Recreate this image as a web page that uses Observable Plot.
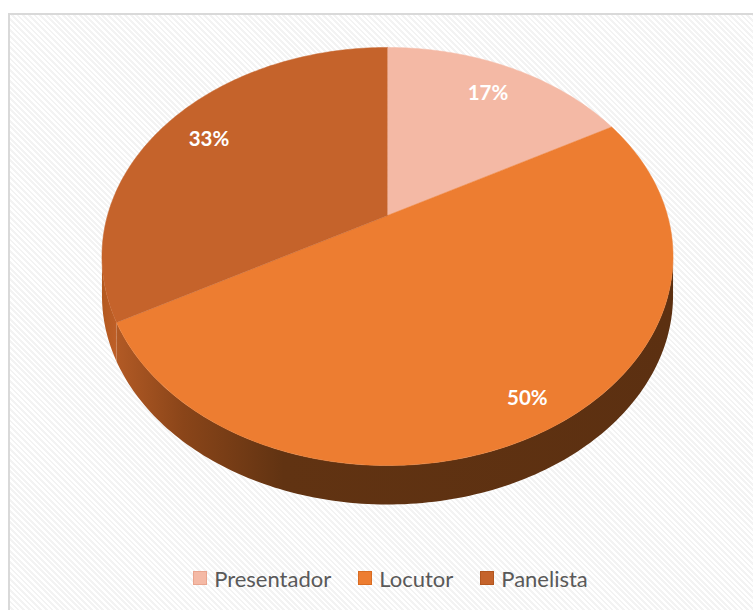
<!DOCTYPE html>
<html><head><meta charset="utf-8">
<script src="https://cdn.jsdelivr.net/npm/d3@7"></script>
<script src="https://cdn.jsdelivr.net/npm/@observablehq/plot@0.6"></script>
<style>
html,body{margin:0;padding:0;background:#fff;overflow:hidden;width:753px;height:610px;}
#frame{position:absolute;left:8px;top:13px;width:770px;height:640px;border:2px solid #d9d9d9;box-sizing:border-box;
  background:repeating-linear-gradient(45deg,#ffffff 0px,#ffffff 2px,#f3f3f3 2px,#f3f3f3 4px);}
#chart{position:absolute;left:0;top:0;width:753px;}
#legend{display:flex;justify-content:center;align-items:center;padding-left:28px;height:56px;box-sizing:border-box;
  font-family:Lato,"Open Sans",sans-serif;font-size:22px;color:#595959;}
.item{display:flex;align-items:center;margin:0 13.5px;}
.sw{width:14px;height:14px;margin-right:7px;box-sizing:border-box;}
</style></head><body>
<div id="frame"></div>
<div id="chart"></div>
<script>
// ---- data ----
const categories = ["Presentador", "Locutor", "Panelista"];
const values = [17, 50, 33];
const labels = ["17%", "50%", "33%"];
const colors = ["#f4b9a5", "#ed7d31", "#c5632b"];
const swatchBorders = ["#e9a58e", "#d96c22", "#b2561f"];

// ---- geometry settings (styling) ----
const W = 753, H = 550;
const cx = 387, cy = 215, kx = 280, ky = 201, persp = 0.196, depth = 39;
const labelR = [0.8, 0.88, 0.8];

const data = categories.map((c, i) => ({key: c, value: values[i], label: labels[i], idx: i}));
const arcs = d3.pie().sort(null).value(d => d.value).startAngle(0).endAngle(2 * Math.PI)(data);

function P(phi, r = 1) {
  const X = r * Math.sin(phi), Z = r * Math.cos(phi), d = 1 + persp * Z;
  return {x: X / d, y: Z / d};
}
const stepA = Math.PI / 180;
function angles(a0, a1) {
  const n = Math.max(2, Math.ceil((a1 - a0) / stepA));
  return d3.range(n + 1).map(i => a0 + (a1 - a0) * i / n);
}
const dy = depth / ky;
const vis0 = Math.acos(-persp), vis1 = 2 * Math.PI - Math.acos(-persp);

// top faces
const tops = arcs.flatMap(a => [
  {key: a.data.key, ...P(0, 0)},
  ...angles(a.startAngle, a.endAngle).map(phi => ({key: a.data.key, ...P(phi)}))
]);
// side walls (visible front part)
const sides = arcs.map(a => {
  const b0 = Math.max(a.startAngle, vis0), b1 = Math.min(a.endAngle, vis1);
  if (b1 <= b0) return [];
  const up = angles(b0, b1).map(phi => ({key: a.data.key, ...P(phi)}));
  const down = up.slice().reverse().map(p => ({key: p.key, x: p.x, y: p.y - dy}));
  return up.concat(down);
});
// shadow silhouette
const ring = angles(0, 2 * Math.PI).map(phi => P(phi));
const shadow = [
  ...ring.map(p => ({g: "top", x: p.x + 1 / kx, y: p.y - 2 / ky})),
  ...ring.map(p => ({g: "bottom", x: p.x + 1 / kx, y: p.y - dy - 3 / ky}))
];

const sideFills = ["url(#side0)", "url(#side1)", "url(#side2)"];

const marks = [
  Plot.line(shadow, {x: "x", y: "y", z: "g", fill: "#000", fillOpacity: 0.32, stroke: "none", ariaLabel: "shadow"}),
  ...sides.map((pts, i) => Plot.line(pts, {x: "x", y: "y", fill: sideFills[i], stroke: "none"})),
  Plot.line(tops, {x: "x", y: "y", z: "key", fill: "key", stroke: "key", strokeWidth: 0.5}),
  Plot.text(arcs, {
    x: a => P((a.startAngle + a.endAngle) / 2, labelR[a.data.idx]).x,
    y: a => P((a.startAngle + a.endAngle) / 2, labelR[a.data.idx]).y,
    text: a => a.data.label,
    fill: "white", fontSize: 20.5, fontWeight: "bold", fontFamily: "Lato, 'Open Sans', sans-serif"
  })
];

const chart = Plot.plot({
  width: W, height: H, margin: 0,
  x: {domain: [-cx / kx, (W - cx) / kx], axis: null},
  y: {domain: [(cy - H) / ky, cy / ky], axis: null},
  color: {domain: categories, range: colors},
  style: {background: "transparent", overflow: "visible"},
  marks
});

const svg = d3.select(chart);
const defs = svg.insert("defs", ":first-child");
const f = defs.append("filter").attr("id", "blur").attr("x", "-10%").attr("y", "-10%").attr("width", "120%").attr("height", "120%");
f.append("feGaussianBlur").attr("stdDeviation", 3.5);
const gradStops = [
  [[0, "#b35a24"], [1, "#a04d1c"]],
  [[0, "#b25a25"], [0.12, "#8a4519"], [0.3, "#613312"], [1, "#5c3011"]],
  [[0, "#b3591f"], [1, "#be5f28"]]
];
gradStops.forEach((stops, i) => {
  const g = defs.append("linearGradient").attr("id", "side" + i).attr("x1", 0).attr("y1", 0).attr("x2", 1).attr("y2", 0);
  stops.forEach(([o, c]) => g.append("stop").attr("offset", o).attr("stop-color", c));
});
svg.select("g[aria-label=shadow]").attr("filter", "url(#blur)");

document.getElementById("chart").appendChild(chart);

// legend
const legend = d3.select("#chart").append("div").attr("id", "legend");
categories.forEach((c, i) => {
  const it = legend.append("div").attr("class", "item");
  it.append("div").attr("class", "sw").style("background", colors[i]).style("border", "1px solid " + swatchBorders[i]);
  it.append("span").text(c);
});
</script>
</body></html>
